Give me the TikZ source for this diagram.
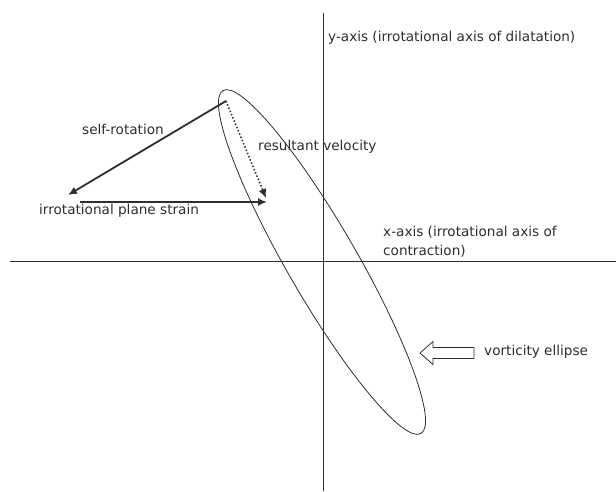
\documentclass[tikz,border=0pt]{standalone}
\usepackage{fontspec}
\setmainfont{DejaVu Sans}
\usetikzlibrary{arrows.meta}
\definecolor{ink}{HTML}{2E2E2E}
\tikzset{
  lbl/.style={anchor=base west, inner sep=0pt, text=ink, font=\fontsize{13.6}{16}\selectfont},
  axisline/.style={draw=ink, line width=0.9pt},
  vec/.style={draw=ink, line width=1.8pt, -{Latex[length=9pt,width=8pt]}},
  dotvec/.style={draw=ink, line width=1.5pt, dotted, -{Latex[length=9pt,width=8pt]}},
  thin/.style={draw=ink, line width=0.8pt},
}
\begin{document}
\begin{tikzpicture}[x=1pt,y=-1pt]
\useasboundingbox (0,0) rectangle (616,492);
% axes
\coordinate (ytop) at (323,13);
\coordinate (ybot) at (323,491);
\coordinate (xl) at (10,261);
\coordinate (xr) at (616,261);
\draw[axisline] (ytop) -- (ybot);
\draw[axisline] (xl) -- (xr);
% ellipse
\draw[thin] (322,262) ellipse[x radius=198, y radius=35, rotate=-60];
% vectors
\coordinate (P) at (226,101);
\coordinate (srEnd) at (68,195);
\coordinate (rvEnd) at (266,198);
\coordinate (psStart) at (80,202);
\coordinate (psEnd) at (267,202);
\draw[vec] (P) -- (srEnd);
\draw[vec] (psStart) -- (psEnd);
\draw[dotvec] (P) -- (rvEnd);
% block arrow
\draw[thin, line width=0.8pt] (474,347.5) -- (433,347.5) -- (433,341.5) -- (420,353) -- (433,364.5) -- (433,358.5) -- (474,358.5) -- cycle;
% labels
\node[lbl] (sr) at (82,135) {self-rotation};
\node[lbl] (ps) at (39,214) {irrotational plane strain};
\node[lbl] (rv) at (258,150) {resultant velocity};
\node[lbl] (ya) at (328,42) {y-axis (irrotational axis of dilatation)};
\node[lbl] (xa1) at (383,236) {x-axis (irrotational axis of};
\node[lbl] (xa2) at (383,255) {contraction)};
\node[lbl] (ve) at (484,355) {vorticity ellipse};
\end{tikzpicture}
\end{document}
